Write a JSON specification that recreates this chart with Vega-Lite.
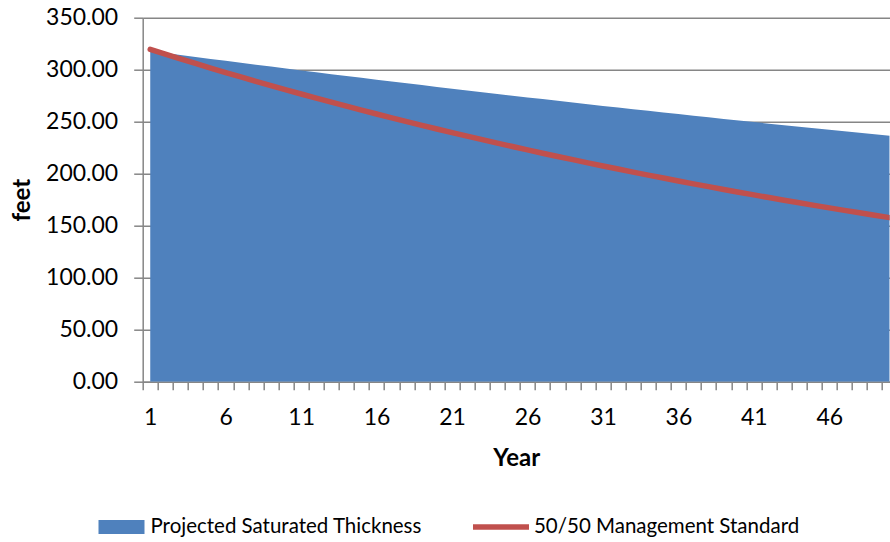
{
  "$schema": "https://vega.github.io/schema/vega-lite/v6.json",
  "width": 747,
  "height": 364,
  "autosize": {"type": "none"},
  "padding": {"left": 142.7, "top": 17.7, "right": 0, "bottom": 160.3},
  "background": "white",
  "config": {
    "view": {"stroke": null},
    "font": "Lato",
    "axis": {
      "labelFont": "Lato",
      "labelColor": "#000000",
      "titleFont": "Lato",
      "titleColor": "#000000",
      "domainColor": "#868686",
      "tickColor": "#868686",
      "gridColor": "#868686",
      "domainWidth": 1.5,
      "tickWidth": 1.5,
      "gridWidth": 1.5
    },
    "legend": {
      "labelFont": "Lato",
      "labelFontSize": 20.5,
      "labelColor": "#000000",
      "labelLimit": 0
    }
  },
  "data": {
    "values": [
      {"year": 1, "thickness": 318.00, "standard": 319.50},
      {"year": 2, "thickness": 316.08, "standard": 314.93},
      {"year": 3, "thickness": 314.18, "standard": 310.43},
      {"year": 4, "thickness": 312.28, "standard": 305.99},
      {"year": 5, "thickness": 310.40, "standard": 301.62},
      {"year": 6, "thickness": 308.52, "standard": 297.30},
      {"year": 7, "thickness": 306.66, "standard": 293.05},
      {"year": 8, "thickness": 304.81, "standard": 288.86},
      {"year": 9, "thickness": 302.97, "standard": 284.73},
      {"year": 10, "thickness": 301.15, "standard": 280.66},
      {"year": 11, "thickness": 299.33, "standard": 276.65},
      {"year": 12, "thickness": 297.52, "standard": 272.69},
      {"year": 13, "thickness": 295.73, "standard": 268.79},
      {"year": 14, "thickness": 293.94, "standard": 264.95},
      {"year": 15, "thickness": 292.17, "standard": 261.16},
      {"year": 16, "thickness": 290.41, "standard": 257.43},
      {"year": 17, "thickness": 288.66, "standard": 253.75},
      {"year": 18, "thickness": 286.92, "standard": 250.12},
      {"year": 19, "thickness": 285.19, "standard": 246.54},
      {"year": 20, "thickness": 283.47, "standard": 243.02},
      {"year": 21, "thickness": 281.76, "standard": 239.54},
      {"year": 22, "thickness": 280.06, "standard": 236.12},
      {"year": 23, "thickness": 278.37, "standard": 232.74},
      {"year": 24, "thickness": 276.69, "standard": 229.41},
      {"year": 25, "thickness": 275.02, "standard": 226.13},
      {"year": 26, "thickness": 273.36, "standard": 222.90},
      {"year": 27, "thickness": 271.71, "standard": 219.72},
      {"year": 28, "thickness": 270.07, "standard": 216.58},
      {"year": 29, "thickness": 268.44, "standard": 213.48},
      {"year": 30, "thickness": 266.82, "standard": 210.43},
      {"year": 31, "thickness": 265.21, "standard": 207.43},
      {"year": 32, "thickness": 263.61, "standard": 204.46},
      {"year": 33, "thickness": 262.02, "standard": 201.54},
      {"year": 34, "thickness": 260.44, "standard": 198.66},
      {"year": 35, "thickness": 258.87, "standard": 195.82},
      {"year": 36, "thickness": 257.31, "standard": 193.01},
      {"year": 37, "thickness": 255.76, "standard": 190.25},
      {"year": 38, "thickness": 254.22, "standard": 187.53},
      {"year": 39, "thickness": 252.69, "standard": 184.85},
      {"year": 40, "thickness": 251.16, "standard": 182.21},
      {"year": 41, "thickness": 249.65, "standard": 179.61},
      {"year": 42, "thickness": 248.14, "standard": 177.04},
      {"year": 43, "thickness": 246.64, "standard": 174.51},
      {"year": 44, "thickness": 245.15, "standard": 172.01},
      {"year": 45, "thickness": 243.67, "standard": 169.55},
      {"year": 46, "thickness": 242.20, "standard": 167.13},
      {"year": 47, "thickness": 240.74, "standard": 164.74},
      {"year": 48, "thickness": 239.29, "standard": 162.38},
      {"year": 49, "thickness": 237.85, "standard": 160.06},
      {"year": 50, "thickness": 236.42, "standard": 157.77}
    ]
  },
  "encoding": {
    "x": {
      "field": "year",
      "type": "quantitative",
      "scale": {"domain": [0.5, 50], "nice": false, "zero": false},
      "axis": {
        "title": "Year",
        "titleFontSize": 24,
        "titleFontWeight": "bold",
        "titleBaseline": "top",
        "titleY": 65,
        "values": [0.5, 1.5, 2.5, 3.5, 4.5, 5.5, 6.5, 7.5, 8.5, 9.5, 10.5, 11.5, 12.5, 13.5, 14.5, 15.5, 16.5, 17.5, 18.5, 19.5, 20.5, 21.5, 22.5, 23.5, 24.5, 25.5, 26.5, 27.5, 28.5, 29.5, 30.5, 31.5, 32.5, 33.5, 34.5, 35.5, 36.5, 37.5, 38.5, 39.5, 40.5, 41.5, 42.5, 43.5, 44.5, 45.5, 46.5, 47.5, 48.5, 49.5, 1, 6, 11, 16, 21, 26, 31, 36, 41, 46],
        "labelExpr": "datum.value % 1 === 0 ? datum.value : ''",
        "labelOverlap": false,
        "labelFlush": false,
        "labelFontSize": 23,
        "labelPadding": 17,
        "tickSize": 8,
        "tickOpacity": {"condition": {"test": "datum.value % 1 !== 0", "value": 1}, "value": 0},
        "grid": false
      }
    }
  },
  "layer": [
    {
      "mark": {"type": "area", "clip": true, "opacity": 1},
      "encoding": {
        "y": {
          "field": "thickness",
          "type": "quantitative",
          "scale": {"domain": [0, 350], "nice": false},
          "axis": {
            "title": "feet",
            "titleFontSize": 24,
            "titleFontWeight": "bold",
            "titleX": -113,
            "titleY": 182,
            "titleBaseline": "alphabetic",
            "values": [0, 50, 100, 150, 200, 250, 300, 350],
            "format": ".2f",
            "labelFontSize": 23,
            "labelPadding": 16,
            "tickSize": 9,
            "grid": true
          }
        },
        "fill": {
          "datum": "Projected Saturated Thickness",
          "type": "nominal",
          "scale": {"domain": ["Projected Saturated Thickness"], "range": ["#4F81BD"]},
          "legend": {
            "title": null,
            "orient": "none",
            "legendX": -44.2,
            "legendY": 486.3,
            "symbolType": "M-1,-0.3H1V0.3H-1Z",
            "symbolSize": 2116,
            "symbolStrokeWidth": 0,
            "symbolOpacity": 1,
            "labelOffset": 6
          }
        }
      }
    },
    {
      "mark": {"type": "line", "strokeWidth": 5.5, "strokeCap": "round", "clip": true},
      "encoding": {
        "y": {"field": "standard", "type": "quantitative"},
        "stroke": {
          "datum": "50/50 Management Standard",
          "type": "nominal",
          "scale": {"domain": ["50/50 Management Standard"], "range": ["#C0504D"]},
          "legend": {
            "title": null,
            "orient": "none",
            "legendX": 327.3,
            "legendY": 478.3,
            "symbolType": "stroke",
            "symbolSize": 3136,
            "symbolStrokeWidth": 5.5,
            "symbolOpacity": 1,
            "labelOffset": 2
          }
        }
      }
    }
  ]
}
